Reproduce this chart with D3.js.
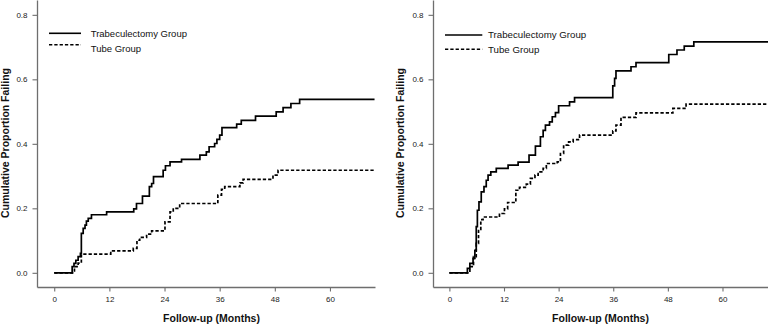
<!DOCTYPE html>
<html>
<head>
<meta charset="utf-8">
<script src="https://cdn.jsdelivr.net/npm/d3@7"></script>
<style>
  html, body { margin: 0; padding: 0; background: #fff; }
  svg { display: block; font-family: "Liberation Sans", Arial, sans-serif; }
</style>
</head>
<body>
<svg id="chart" width="768" height="325"></svg>
<script>
// ---- Data ----
const xTicks = [0, 12, 24, 36, 48, 60];
const yTicks = [0.0, 0.2, 0.4, 0.6, 0.8];
const seriesNames = ["Trabeculectomy Group", "Tube Group"];

// Left panel
const leftTrabTimes = [0, 3.9, 4.3, 4.7, 5.2, 5.7, 5.9, 6.3, 6.7, 7.0, 7.4, 8.1, 11.4, 17.3, 17.9, 19.2, 20.7, 21.2, 21.6, 23.7, 24.2, 25.2, 27.7, 31.7, 33.1, 33.7, 34.9, 35.4, 36.0, 36.5, 39.7, 40.7, 43.8, 48.3, 49.8, 51.5, 53.4, 69.7];
const leftTrabValues = [0, 0.019, 0.029, 0.039, 0.050, 0.060, 0.122, 0.138, 0.148, 0.160, 0.169, 0.180, 0.189, 0.198, 0.215, 0.238, 0.267, 0.277, 0.298, 0.318, 0.332, 0.344, 0.352, 0.365, 0.375, 0.391, 0.401, 0.414, 0.427, 0.450, 0.461, 0.473, 0.486, 0.499, 0.512, 0.525, 0.538, 0.538];
const leftTubeTimes = [0, 4.4, 5.2, 5.9, 12.3, 17.2, 18.0, 18.6, 20.1, 21.2, 24.1, 25.2, 25.9, 27.3, 35.6, 36.4, 37.1, 40.4, 41.1, 47.6, 48.7, 69.7];
const leftTubeValues = [0, 0.019, 0.030, 0.058, 0.068, 0.076, 0.101, 0.110, 0.120, 0.130, 0.158, 0.189, 0.200, 0.215, 0.241, 0.259, 0.267, 0.279, 0.290, 0.303, 0.318, 0.318];

// Right panel
const rightTrabTimes = [0, 3.95, 4.5, 5.2, 5.6, 5.9, 6.15, 6.5, 7.0, 7.6, 8.1, 8.5, 9.1, 10.3, 12.9, 15.1, 17.5, 18.9, 20.0, 20.6, 21.1, 22.0, 22.6, 23.3, 24.0, 26.4, 27.5, 35.9, 36.3, 36.6, 39.9, 41.0, 48.2, 50.0, 51.6, 53.7, 70];
const rightTrabValues = [0, 0.014, 0.029, 0.045, 0.070, 0.143, 0.194, 0.220, 0.251, 0.267, 0.287, 0.303, 0.313, 0.324, 0.334, 0.343, 0.365, 0.393, 0.422, 0.442, 0.458, 0.468, 0.484, 0.497, 0.518, 0.530, 0.543, 0.580, 0.603, 0.626, 0.639, 0.652, 0.677, 0.691, 0.703, 0.716, 0.716];
const rightTubeTimes = [0, 4.5, 5.3, 5.9, 6.4, 6.9, 7.4, 11.0, 12.1, 12.8, 14.6, 15.4, 16.9, 17.8, 18.8, 19.5, 20.6, 21.3, 23.7, 24.4, 25.1, 26.2, 27.2, 28.6, 35.9, 36.6, 37.7, 41.0, 49.1, 52.0, 70];
const rightTubeValues = [0, 0.019, 0.050, 0.091, 0.135, 0.165, 0.173, 0.184, 0.198, 0.218, 0.256, 0.265, 0.275, 0.293, 0.303, 0.313, 0.324, 0.339, 0.344, 0.370, 0.396, 0.406, 0.413, 0.427, 0.440, 0.458, 0.482, 0.496, 0.510, 0.523, 0.523];

// ---- Layout ----
const panels = [
  { xDomain: [-3.75, 69.8], xRange: [37, 375], trab: [leftTrabTimes, leftTrabValues], tube: [leftTubeTimes, leftTubeValues],
    yLabelX: 8.5, xLabelX: 211.5, legend: { x1: 49, x2: 81, y1: 33.3, y2: 44.7, tx: 90.7, ty1: 36.7, ty2: 51.6, fs: 9.5 } },
  { xDomain: [-3.6, 70], xRange: [433, 768], trab: [rightTrabTimes, rightTrabValues], tube: [rightTubeTimes, rightTubeValues],
    yLabelX: 404, xLabelX: 600.5, legend: { x1: 445, x2: 482.3, y1: 35, y2: 49.3, tx: 488, ty1: 37.7, ty2: 53.3, fs: 9.7 } }
];

const svg = d3.select("#chart");
const y = d3.scaleLinear().domain([-0.044, 0.846]).range([287, 0]);
const axisColor = "#6e6e6e";

panels.forEach(p => {
  const x = d3.scaleLinear().domain(p.xDomain).range(p.xRange);
  const g = svg.append("g");

  // axes
  const ya = g.append("g").attr("transform", `translate(${p.xRange[0]},0)`)
    .call(d3.axisLeft(y).tickValues(yTicks).tickFormat(d3.format(".1f")).tickSize(4.5).tickSizeOuter(0).tickPadding(5));
  const xa = g.append("g").attr("transform", `translate(0,287)`)
    .call(d3.axisBottom(x).tickValues(xTicks).tickFormat(d3.format("d")).tickSize(4.5).tickSizeOuter(0).tickPadding(4.5));
  [ya, xa].forEach(a => {
    a.select(".domain").attr("stroke", axisColor).attr("stroke-width", 1.3);
    a.selectAll(".tick line").attr("stroke", axisColor).attr("stroke-width", 1.1);
    a.selectAll(".tick text").attr("fill", "#222").style("font-size", "8px").style("font-family", "'Liberation Sans', Arial, sans-serif");
  });

  // curves
  const line = d3.line().x(d => x(d[0])).y(d => y(d[1])).curve(d3.curveStepAfter);
  const trabData = p.trab[0].map((t, i) => [t, p.trab[1][i]]);
  const tubeData = p.tube[0].map((t, i) => [t, p.tube[1][i]]);
  g.append("path").datum(tubeData).attr("d", line).attr("fill", "none")
    .attr("stroke", "#000").attr("stroke-width", 1.7).attr("stroke-dasharray", "3.3,2");
  g.append("path").datum(trabData).attr("d", line).attr("fill", "none")
    .attr("stroke", "#000").attr("stroke-width", 1.7);

  // legend
  const L = p.legend;
  g.append("line").attr("x1", L.x1).attr("x2", L.x2).attr("y1", L.y1).attr("y2", L.y1)
    .attr("stroke", "#000").attr("stroke-width", 1.6);
  g.append("line").attr("x1", L.x1).attr("x2", L.x2).attr("y1", L.y2).attr("y2", L.y2)
    .attr("stroke", "#000").attr("stroke-width", 1.6).attr("stroke-dasharray", "3.3,2");
  g.append("text").attr("x", L.tx).attr("y", L.ty1).text(seriesNames[0])
    .style("font-size", L.fs + "px").attr("fill", "#111");
  g.append("text").attr("x", L.tx).attr("y", L.ty2).text(seriesNames[1])
    .style("font-size", L.fs + "px").attr("fill", "#111");

  // axis titles
  g.append("text").attr("transform", `translate(${p.yLabelX},143) rotate(-90)`)
    .attr("text-anchor", "middle").style("font-size", "10.5px").style("font-weight", "bold")
    .attr("fill", "#111").text("Cumulative Proportion Failing");
  g.append("text").attr("x", p.xLabelX).attr("y", 321.5).attr("text-anchor", "middle")
    .style("font-size", "10.5px").style("font-weight", "bold").attr("fill", "#111").text("Follow-up (Months)");
});
</script>
</body>
</html>
